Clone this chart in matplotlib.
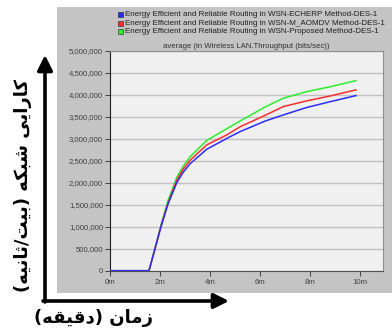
import matplotlib
matplotlib.use('Agg')
import matplotlib.pyplot as plt
from matplotlib.patches import Rectangle
from matplotlib.ticker import FuncFormatter, MultipleLocator

# ── data (minutes, bits/sec in millions) ─────────────────────────
time_min = [0, 1.56, 1.8, 2.04, 2.31, 2.67, 2.93, 3.2, 3.87, 4.65, 5.2,
            6.2, 6.93, 7.87, 8.8, 9.84]
echerp = [0, 0, 0.50, 1.00, 1.50, 2.00, 2.24, 2.43, 2.76, 3.00, 3.16,
          3.40, 3.54, 3.71, 3.84, 3.98]
m_aomdv = [0, 0, 0.50, 1.01, 1.52, 2.06, 2.31, 2.51, 2.86, 3.08, 3.27,
           3.53, 3.73, 3.86, 3.97, 4.11]
proposed = [0, 0, 0.52, 1.04, 1.58, 2.12, 2.38, 2.59, 2.96, 3.22, 3.40,
            3.72, 3.92, 4.07, 4.18, 4.32]
series_names = [
    'Energy Efficient and Reliable Routing in WSN-ECHERP Method-DES-1',
    'Energy Efficient and Reliable Routing in WSN-M_AOMDV Method-DES-1',
    'Energy Efficient and Reliable Routing in WSN-Proposed Method-DES-1',
]
series_colors = ['#2b2bff', '#ff2b2b', '#2bef2b']

W, H = 392, 331
fig = plt.figure(figsize=(W / 100, H / 100), dpi=100)
fig.patch.set_facecolor('white')

# gray panel behind the chart
fig.patches.append(Rectangle((57 / W, 1 - 293 / H), (W - 57) / W, (293 - 7) / H,
                             transform=fig.transFigure, facecolor='#c4c4c4',
                             edgecolor='none', zorder=-2))

ax = fig.add_axes([110 / W, 1 - 270.7 / H, (383 - 110) / W, 220 / H])
ax.set_zorder(1)
ax.set_facecolor('#f0f0f0')

# draw in reverse so blue ends up on top
for vals, col in list(zip([echerp, m_aomdv, proposed], series_colors))[::-1]:
    ax.plot(time_min, [v * 1e6 for v in vals], color=col, lw=1.1, zorder=3)

ax.set_xlim(0, 10.92)
ax.set_ylim(0, 5e6)
ax.xaxis.set_major_locator(MultipleLocator(2))
ax.yaxis.set_major_locator(MultipleLocator(5e5))
ax.xaxis.set_major_formatter(FuncFormatter(lambda v, p: f'{int(round(v))}m'))
ax.yaxis.set_major_formatter(FuncFormatter(lambda v, p: f'{int(v):,}'))
ax.grid(axis='y', color='#c0c0c0', lw=1.0)
ax.set_axisbelow(True)
for lbl in ax.get_xticklabels() + ax.get_yticklabels():
    lbl.set_fontfamily('Liberation Sans')
    lbl.set_fontsize(5.6)
    lbl.set_color('#404040')
ax.tick_params(axis='both', direction='out', length=3.5, width=0.7,
               color='#404040', pad=1.5)
ax.tick_params(axis='x', pad=2.5)
ax.spines['left'].set_color('#202020')
ax.spines['bottom'].set_color('#505050')
ax.spines['top'].set_color('#909090')
ax.spines['right'].set_color('#909090')
for s in ax.spines.values():
    s.set_linewidth(0.8)

ax.set_title('average (in Wireless LAN.Throughput (bits/sec))',
             fontsize=5.6, family='Liberation Sans', color='#303030', pad=2)

# legend rows (square + text)
for i, (name, col) in enumerate(zip(series_names, series_colors)):
    yy = 1 - (14.7 + 8.5 * i) / H
    fig.patches.append(Rectangle((118 / W, yy - 2.5 / H), 5 / W, 5 / H,
                                 transform=fig.transFigure, facecolor=col,
                                 edgecolor='#202020', lw=0.4, zorder=2))
    fig.text(125 / W, yy, name, fontsize=5.75, family='Liberation Sans',
             color='#202020', va='center', ha='left')

# axis arrows
arrow = dict(arrowstyle='-|>,head_length=0.9,head_width=0.45', color='black',
             lw=2.6, shrinkA=0, shrinkB=0)
ax.annotate('', xy=(45, 276), xytext=(45, 29), xycoords='figure pixels',
            textcoords='figure pixels', arrowprops=arrow, annotation_clip=False)
ax.annotate('', xy=(229, 30), xytext=(43, 30), xycoords='figure pixels',
            textcoords='figure pixels', arrowprops=arrow, annotation_clip=False)

# Persian labels, written in visual order with presentation forms
zaman = '\uFEE5\uFE8E\uFEE3\uFEAF'
daghighe = '\uFEEA\uFED8\uFEF4\uFED7\uFEA9'
karayi = '\uFEF0\uFEF3\uFE8D\uFEAD\uFE8E\uFEDB'
shabake = '\uFEEA\uFEDC\uFE92\uFEB7'
bit = '\uFE96\uFEF4\uFE91'
sanie = '\uFEEA\uFEF4\uFEE7\uFE8E\uFE9B'

fig.text(94 / W, 13 / H, '(' + daghighe + ') ' + zaman, fontsize=13,
         fontweight='bold', family=['DejaVu Sans'], ha='center', va='center')
fig.text(23 / W, 145 / H, '(' + sanie + '/' + bit + ') ' + shabake + ' ' + karayi,
         fontsize=13, fontweight='bold', family=['DejaVu Sans'],
         rotation=90, ha='center', va='center')

fig.savefig('out.png', dpi=100)
